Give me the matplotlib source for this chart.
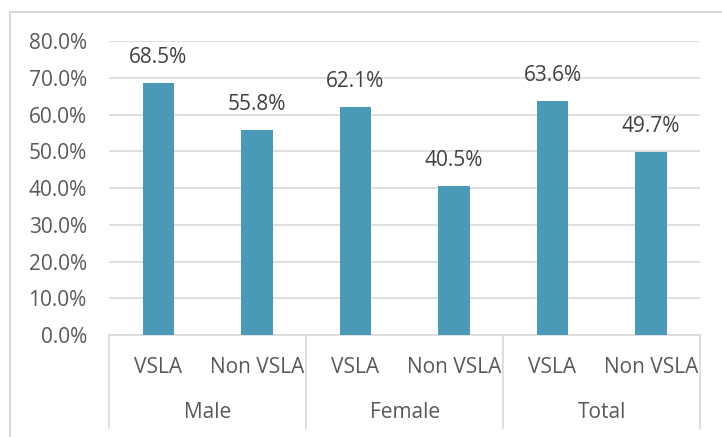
import matplotlib.pyplot as plt
from matplotlib.patches import Rectangle

# data
groups = ['Male', 'Female', 'Total']
subgroups = ['VSLA', 'Non VSLA']
values = [0.685, 0.558, 0.621, 0.405, 0.636, 0.497]
labels = ['VSLA', 'Non VSLA', 'VSLA', 'Non VSLA', 'VSLA', 'Non VSLA']

plt.rcParams['font.family'] = ['Open Sans', 'DejaVu Sans']
grid_c = '#D9D9D9'
text_c = '#595959'
fs = 15

fig = plt.figure(figsize=(7.22, 4.37), dpi=100)
ax = fig.add_axes([0.151, 0.2334, 0.819, 0.6726])

x = list(range(len(values)))
bars = ax.bar(x, values, width=0.32, color='#4A9AB7', zorder=3)

for xi, v in zip(x, values):
    ax.annotate(f'{v*100:.1f}%', (xi, v), xytext=(0, 18.5), textcoords='offset points',
                ha='center', va='center', fontsize=fs, color='#404040')

ax.set_xlim(-0.5, len(values) - 0.5)
ax.set_ylim(0, 0.8)
ax.set_yticks([i / 10 for i in range(9)])
ax.set_yticklabels([f'{i*10:.1f}%' for i in range(9)], fontsize=fs, color=text_c)
ax.yaxis.grid(True, color=grid_c, linewidth=1.2, zorder=0)
ax.tick_params(axis='y', length=0, pad=16)

ax.set_xticks(x)
ax.set_xticklabels([])
ax.tick_params(axis='x', length=0)
for s in ['top', 'right', 'left']:
    ax.spines[s].set_visible(False)
ax.spines['bottom'].set_color(grid_c)
ax.spines['bottom'].set_linewidth(1.2)

trans = ax.get_xaxis_transform()
for xi, lab in zip(x, labels):
    ax.text(xi, -0.109, lab, transform=trans, ha='center', va='center',
            fontsize=fs, color=text_c)
for gi, g in enumerate(groups):
    ax.text(gi * 2 + 0.5, -0.265, g, transform=trans, ha='center', va='center',
            fontsize=fs, color=text_c)
for b in [-0.5, 1.5, 3.5, 5.5]:
    ax.plot([b, b], [0, -0.316], transform=trans, color=grid_c, lw=1.2, clip_on=False)

# chart border
fig.patches.append(Rectangle((10 / 722, -0.01), 1.02, 1 - 12 / 437 + 0.01,
                             transform=fig.transFigure, fill=False,
                             edgecolor=grid_c, linewidth=1.5))

fig.savefig('out.png', dpi=100)
